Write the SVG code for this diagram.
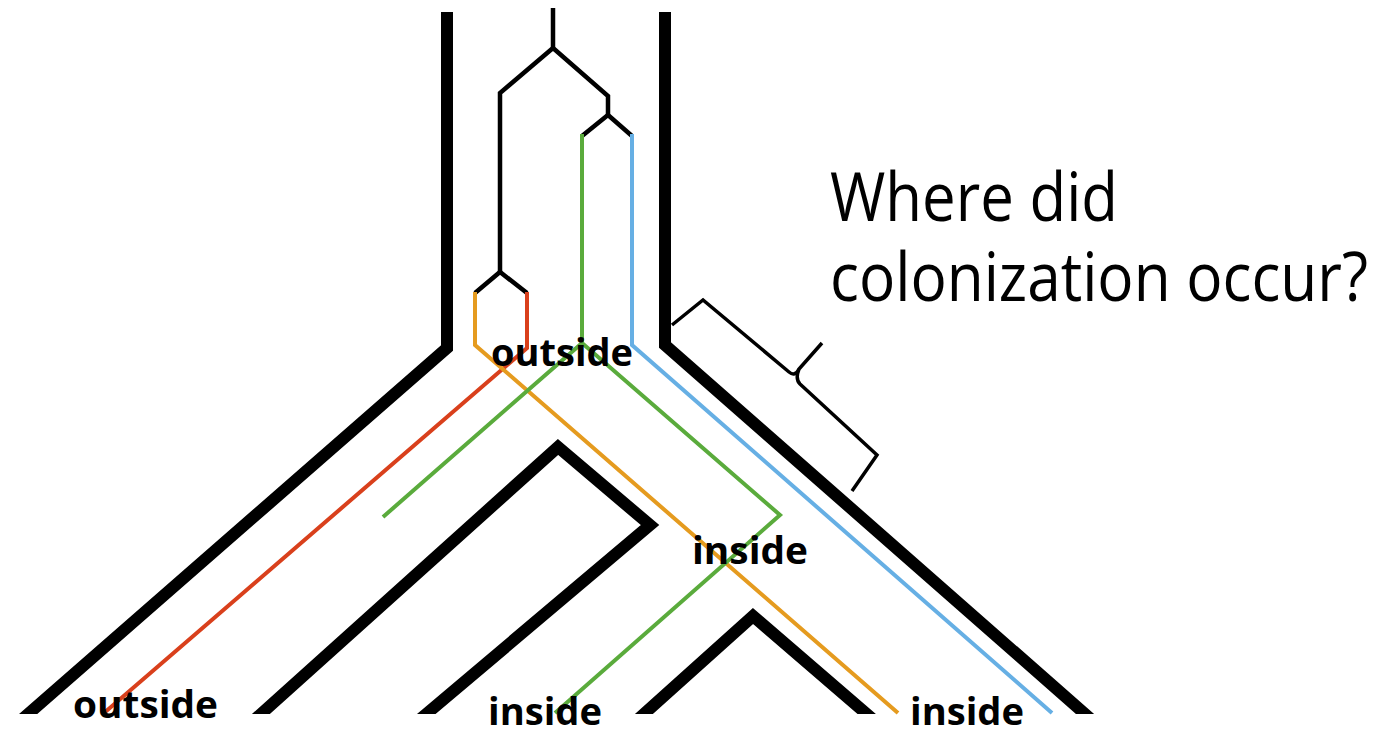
<svg xmlns="http://www.w3.org/2000/svg" width="1388" height="730" viewBox="0 0 1388 730">
<style>
.wall{fill:none;stroke:#000;stroke-width:12;stroke-linejoin:miter;stroke-miterlimit:10}
.gene{fill:none;stroke-width:4;stroke-linejoin:miter;stroke-linecap:butt}
.blk{stroke:#000;stroke-width:4.5}
.red{stroke:#d9401c}
.org{stroke:#e59b1f}
.grn{stroke:#5aab3c}
.blu{stroke:#66afe4}
.lbl{font-family:"Open Sans","Liberation Sans",sans-serif;font-weight:bold;font-size:37px;fill:#000}
.q{font-family:"Open Sans","Liberation Sans",sans-serif;font-size:67px;fill:#000}
</style>
<defs>
<clipPath id="cut"><rect x="0" y="0" width="1388" height="714"/></clipPath>
</defs>
<rect width="1388" height="730" fill="#fff"/>
<g id="species-tree" clip-path="url(#cut)">
<path class="wall" d="M447,12 L447,348 L19,722"/>
<path class="wall" d="M665,12 L665,345 L1093,721"/>
<path class="wall" d="M252,722 L558,447 L650,525 L418,721"/>
<path class="wall" d="M635,722 L753,616 L876,722"/>
</g>
<g id="connectors">
<path class="gene blk" d="M553,8 L553,48"/>
<path class="gene blk" d="M500,274 L500,93 L553,48 L608,96 L608,115"/>
<path class="gene blk" d="M582,136 L608,115 L632,136"/>
<path class="gene blk" d="M475,293 L500,272 L527,293"/>
<path class="gene red" d="M527,292 L527,348 L104,713"/>
<path class="gene org" d="M475,292 L475,345 L898,713"/>
<path class="gene grn" d="M582,134 L582,343 L383,517"/>
<path class="gene grn" d="M582,343 L780,515 L555,713"/>
<path class="gene blu" d="M632,134 L632,345 L1052,713"/>
</g>
<g id="brace">
<path d="M672,325 L703,300 L789,372 Q795,377 799,369 L822,343 M799,369 Q795,379 800,384 L877,455 L852,491" fill="none" stroke="#000" stroke-width="3.5" stroke-linejoin="miter"/>
</g>
<g id="question">
<text class="q" x="830" y="221" textLength="288" lengthAdjust="spacingAndGlyphs">Where did</text>
<text class="q" x="830" y="301" textLength="538" lengthAdjust="spacingAndGlyphs">colonization occur?</text>
</g>
<g id="label-root">
<text class="lbl" x="491" y="366" textLength="142" lengthAdjust="spacingAndGlyphs">outside</text>
</g>
<g id="label-mid">
<text class="lbl" x="692" y="564" textLength="116" lengthAdjust="spacingAndGlyphs">inside</text>
</g>
<g id="label-outside">
<text class="lbl" x="73" y="718" textLength="145" lengthAdjust="spacingAndGlyphs">outside</text>
</g>
<g id="label-inside-1">
<text class="lbl" x="488" y="725" textLength="114" lengthAdjust="spacingAndGlyphs">inside</text>
</g>
<g id="label-inside-2">
<text class="lbl" x="910" y="725" textLength="114" lengthAdjust="spacingAndGlyphs">inside</text>
</g>
</svg>
